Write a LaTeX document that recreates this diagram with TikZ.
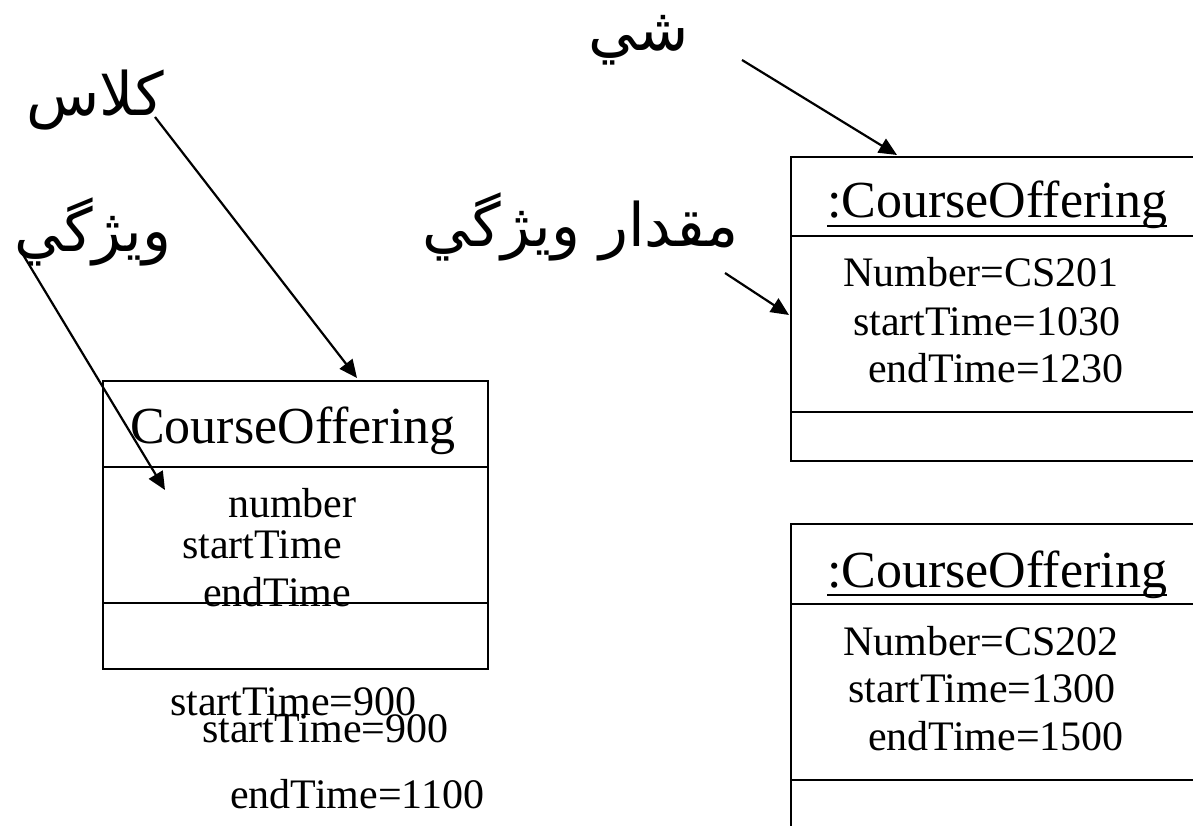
\documentclass[tikz,border=0pt]{standalone}
\usepackage{fontspec}
\setmainfont{Liberation Serif}
\newfontfamily\arabicfont[Script=Arabic]{DejaVu Sans}
\TeXXeTstate=1
\usetikzlibrary{arrows.meta}

\begin{document}
\begin{tikzpicture}[x=1pt,y=-1pt,
  box/.style={draw,line width=2.4pt,inner sep=0pt,anchor=north west},
  rule/.style={line width=2.4pt},
  pointer/.style={line width=2.2pt,-{Triangle[length=18pt,width=16pt]}},
  title/.style={font=\fontsize{52}{60}\selectfont,anchor=base west,inner sep=0pt},
  attr/.style={font=\fontsize{42}{48}\selectfont,anchor=base west,inner sep=0pt},
  fa/.style={font=\arabicfont\fontsize{60}{70}\selectfont,inner sep=0pt}]
\clip (0,0) rectangle (1193,826);

% ---- class box ----
\node[box,minimum width=385pt,minimum height=288pt] (cls) at (102,380) {};
\draw[rule] (102,467) -- (487,467);
\draw[rule] (102,603) -- (487,603);
\node[title] (clsName) at (130,443) {CourseOffering};
\node[attr] (clsA1) at (228,517) {number};
\node[attr] (clsA2) at (182,558) {startTime};
\node[attr] (clsA3) at (203,606) {endTime};

\node[attr] (val1) at (170,715) {startTime=900};
\node[attr] (val2) at (202,742) {startTime=900};
\node[attr] (val3) at (230,808) {endTime=1100};

% ---- first object ----
\node[box,minimum width=440pt,minimum height=304pt] (objA) at (790,156) {};
\draw[rule] (790,236) -- (1230,236);
\draw[rule] (790,412) -- (1230,412);
\node[title] (objAName) at (827,218) {:CourseOffering};
\draw[line width=2pt] ([yshift=-8pt]objAName.base west) -- ([yshift=-8pt]objAName.base east);
\node[attr] (objA1) at (843,287) {Number=CS201};
\node[attr] (objA2) at (853,335) {startTime=1030};
\node[attr] (objA3) at (868,382) {endTime=1230};

% ---- second object ----
\node[box,minimum width=440pt,minimum height=377pt] (objB) at (790,523) {};
\draw[rule] (790,604) -- (1230,604);
\draw[rule] (790,780) -- (1230,780);
\node[title] (objBName) at (827,587) {:CourseOffering};
\draw[line width=2pt] ([yshift=-8pt]objBName.base west) -- ([yshift=-8pt]objBName.base east);
\node[attr] (objB1) at (843,655) {Number=CS202};
\node[attr] (objB2) at (848,702) {startTime=1300};
\node[attr] (objB3) at (868,750) {endTime=1500};

% ---- labels ----
\node[fa] (lblObject) at (639,40) {\beginR شي\endR};
\node[fa] (lblClass) at (95,100) {\beginR كلاس\endR};
\node[fa] (lblAttr) at (93,232) {\beginR ويژگي\endR};
\node[fa] (lblValue) at (581,227) {\beginR مقدار ويژگي\endR};

% ---- pointers ----
\coordinate (tObject) at (742,60);
\coordinate (hObject) at (897,155);
\coordinate (tValue) at (725,273);
\coordinate (hValue) at (789,315);
\coordinate (tClass) at (155,117);
\coordinate (hClass) at (357,378);
\coordinate (tAttr) at (22,253);
\coordinate (hAttr) at (165,490);
\draw[pointer] (tObject) -- (hObject);
\draw[pointer] (tValue) -- (hValue);
\draw[pointer] (tClass) -- (hClass);
\draw[pointer] (tAttr) -- (hAttr);
\end{tikzpicture}
\end{document}
